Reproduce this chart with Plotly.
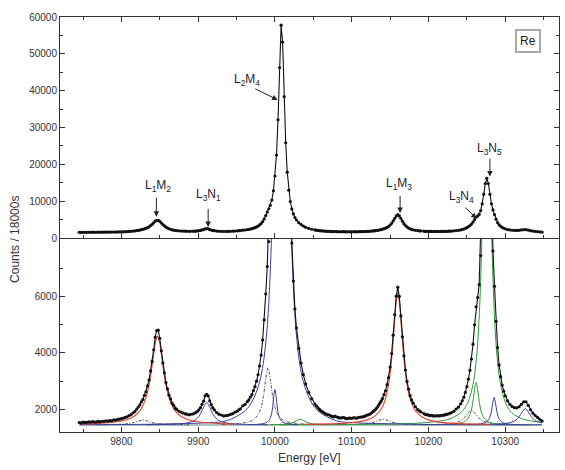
import plotly.graph_objects as go

exp_energy = [
    9745, 9747.5, 9750, 9752.5, 9755, 9757.5, 9760, 9762.5, 9765, 9767.5, 9770, 9772.5, 9775, 9777.5,
    9780, 9782.5, 9785, 9787.5, 9790, 9792.5, 9795, 9797.5, 9800, 9802.5, 9805, 9807.5, 9810, 9812.5,
    9815, 9817.5, 9820,
    9822, 9824, 9826, 9828, 9830, 9832, 9834, 9836, 9838, 9840, 9842, 9844, 9846, 9848, 9850, 9852,
    9854, 9856, 9858, 9860, 9862, 9864, 9866, 9868, 9870, 9872,
    9875, 9878, 9880, 9883, 9885, 9888, 9890, 9893, 9895, 9897, 9899, 9901, 9903, 9905, 9907, 9909,
    9911, 9913, 9915, 9917, 9919, 9921, 9924, 9927, 9930, 9933, 9936, 9939, 9942, 9945, 9948, 9951,
    9953, 9955, 9958, 9961, 9964,
    9966, 9968, 9970, 9972, 9974, 9976, 9978, 9980, 9982, 9984, 9986, 9988, 9990, 9992, 9994, 9996,
    9998, 10000, 10002, 10004, 10006, 10008, 10010, 10012, 10014, 10016, 10018, 10020, 10022, 10024,
    10026, 10028, 10031, 10034, 10037, 10040, 10044, 10048,
    10052, 10054, 10056, 10058, 10060, 10062, 10064, 10066, 10068, 10070, 10072, 10074, 10076, 10078,
    10080, 10082, 10084, 10086, 10088, 10090, 10092, 10094, 10096, 10098, 10100, 10102, 10104, 10106,
    10108, 10110, 10112, 10114, 10116, 10118, 10120, 10122, 10124, 10126, 10128,
    10129.5, 10131, 10132.5, 10134, 10135.5, 10137, 10138.5, 10140, 10142, 10144, 10146, 10148, 10150,
    10152, 10154, 10156, 10158, 10160, 10162, 10164, 10166, 10168, 10170, 10172, 10174, 10176, 10178,
    10180, 10183, 10186, 10188, 10190,
    10194, 10196, 10198, 10200, 10202, 10204, 10206, 10208, 10210, 10212, 10214, 10216, 10218, 10220,
    10222, 10224, 10226, 10228, 10230, 10233, 10236, 10239,
    10242, 10244, 10246, 10248, 10250, 10252, 10254, 10256, 10258, 10260, 10262, 10264, 10266, 10268,
    10270, 10272, 10274, 10276, 10278, 10280, 10282, 10284, 10286, 10288, 10290, 10292, 10294, 10296,
    10298, 10300, 10303, 10306, 10309,
    10312, 10315, 10318, 10321, 10324, 10327, 10330, 10333, 10336, 10339, 10342, 10345, 10348,
]
exp_counts = [
    1536, 1521, 1548, 1533, 1541, 1556, 1549, 1570, 1553, 1562, 1577, 1560, 1581, 1574,
    1596, 1585, 1606, 1598, 1627, 1619, 1648, 1655, 1676, 1689, 1716, 1738, 1781, 1812,
    1872, 1925, 2012,
    2085, 2158, 2266, 2352, 2497, 2626, 2830, 3041, 3362, 3698, 4110, 4560, 4790, 4805, 4520, 4075,
    3645, 3295, 2950, 2724, 2505, 2370, 2221, 2148, 2046, 2004,
    1935, 1902, 1871, 1845, 1832, 1809, 1826, 1838, 1861, 1887, 1930, 1985, 2065, 2180, 2290, 2480,
    2530, 2480, 2300, 2170, 2060, 1985, 1890, 1830, 1802, 1770, 1781, 1790, 1822, 1850, 1902, 1935,
    1985, 2020, 2130, 2172, 2275,
    2340, 2440, 2525, 2668, 2805, 3000, 3228, 3540, 3925, 4460, 5170, 6090, 7060, 7945, 8860, 10290,
    12830, 16830, 22520, 32100, 46280, 57770, 53180, 38370, 25860, 17880, 12980, 9905, 7890, 6545,
    5560, 4885, 4160, 3640, 3230, 2905, 2600, 2375,
    2190, 2120, 2060, 2000, 1945, 1915, 1880, 1845, 1820, 1810, 1785, 1752, 1735, 1760,
    1740, 1718, 1700, 1695, 1712, 1706, 1680, 1672, 1695, 1690, 1684, 1701, 1705, 1688,
    1702, 1722, 1731, 1735, 1748, 1770, 1800, 1812, 1838, 1880, 1930,
    1960, 2005, 2050, 2100, 2170, 2240, 2300, 2385, 2520, 2660, 2875, 3125, 3500,
    3980, 4630, 5350, 6010, 6330, 6000, 5310, 4570, 3900, 3395, 2995, 2718, 2488, 2335,
    2222, 2095, 1990, 1950, 1910,
    1852, 1822, 1812, 1795, 1780, 1790, 1768, 1775, 1766, 1780, 1770, 1783, 1790, 1795,
    1812, 1825, 1842, 1860, 1890, 1935, 2015, 2080,
    2200, 2305, 2435, 2600, 2805, 3070, 3385, 3785, 4310, 4995, 5635, 5960, 6420, 7450,
    9250, 11890, 14800, 16210, 14790, 11880, 9300, 7610, 6360, 5120, 4190, 3575, 3160, 2865,
    2645, 2480, 2300, 2180, 2100,
    2060, 2055, 2095, 2180, 2270, 2272, 2140, 1985, 1868, 1785, 1720, 1650, 1590,
]

# ---------------- fitted components ----------------
l1m2_energy = [9747, 9767, 9787, 9797, 9807, 9817, 9822, 9827, 9832, 9834.5, 9837, 9839.5, 9842, 9844.5,
               9847, 9849.5, 9852, 9854.5, 9857, 9859.5, 9862, 9867, 9872, 9877, 9887, 9897, 9907, 9927, 9947]
l1m2_counts = [1481, 1498, 1535, 1571, 1634, 1764, 1883, 2077, 2415, 2673, 3018, 3457, 3959, 4401,
               4586, 4401, 3959, 3457, 3018, 2673, 2415, 2077, 1883, 1764, 1634, 1571, 1535, 1498, 1481]

sat1_energy = [9768, 9792, 9804, 9810, 9816, 9822, 9828, 9834, 9840, 9846, 9852, 9864, 9888]
sat1_counts = [1456, 1467, 1484, 1502, 1535, 1586, 1620, 1586, 1535, 1502, 1484, 1467, 1456]

l3n1_energy = [9831, 9863, 9879, 9887, 9895, 9899, 9903, 9907, 9911, 9915, 9919, 9923, 9927, 9935, 9943, 9959, 9991]
l3n1_counts = [1458, 1471, 1496, 1529, 1607, 1692, 1843, 2079, 2236, 2079, 1843, 1692, 1607, 1529, 1496, 1471, 1458]

l2m4_energy = [9745.5, 9818.5, 9866, 9913.5, 9937.25, 9961, 9970.5, 9980, 9984.75, 9989.5, 9991.9, 9994.25,
               9996.6, 9999, 10001.4, 10003.75, 10006.1, 10008.5, 10010.9, 10013.25, 10015.6, 10018,
               10020.4, 10022.75, 10025.1, 10027.5, 10032.25, 10037, 10046.5, 10056, 10079.75, 10103.5,
               10151, 10198.5, 10270.5, 10347.5]
l2m4_counts = [1458, 1468, 1490, 1530, 1600, 1950, 2290, 2977, 3623, 4774, 5744, 7100,
               9243, 12750, 18835, 29700, 46650, 57950, 46650, 29700, 18835, 12750,
               9243, 7100, 5744, 4774, 3623, 2977, 2300, 1950, 1600, 1530,
               1490, 1468, 1458, 1455]

sat2_energy = [9931, 9955, 9967, 9973, 9979, 9982, 9985, 9988, 9991, 9994, 9997, 10000, 10003, 10009, 10015, 10027, 10051]
sat2_counts = [1470, 1505, 1569, 1652, 1854, 2072, 2460, 3066, 3470, 3066, 2460, 2072, 1854, 1652, 1569, 1505, 1470]

b10000_energy = [9970, 9982, 9988, 9991, 9994, 9995.5, 9997, 9998.5, 10000, 10001.5, 10003, 10004.5, 10006, 10009, 10012, 10018, 10030]
b10000_counts = [1462, 1484, 1524, 1576, 1701, 1836, 2078, 2455, 2706, 2455, 2078, 1836, 1701, 1576, 1524, 1484, 1462]

g10033_energy = [9993, 10009, 10017, 10021, 10025, 10029, 10033, 10037, 10041, 10045, 10049, 10057, 10073]
g10033_counts = [1458, 1470, 1490, 1512, 1550, 1610, 1650, 1610, 1550, 1512, 1490, 1470, 1458]

sat3_energy = [10081, 10105, 10117, 10123, 10129, 10135, 10141, 10147, 10153, 10159, 10165, 10177, 10201]
sat3_counts = [1458, 1470, 1490, 1512, 1550, 1610, 1650, 1610, 1550, 1512, 1490, 1470, 1458]

l1m3_energy = [10040, 10080, 10096, 10112, 10120, 10128, 10136, 10140, 10144, 10148, 10150, 10152, 10154,
               10156, 10158, 10160, 10162, 10164, 10166, 10168, 10170, 10172, 10176, 10180, 10184, 10192,
               10200, 10208, 10224, 10240, 10280]
l1m3_counts = [1471, 1496, 1522, 1576, 1630, 1725, 1917, 2094, 2384, 2886, 3271, 3784, 4438,
               5184, 5843, 6118, 5843, 5184, 4438, 3784, 3271, 2886, 2384, 2094, 1917, 1725,
               1630, 1576, 1522, 1496, 1471]

sat4_energy = [10211, 10229, 10238, 10242.5, 10247, 10251.5, 10256, 10260.5, 10265, 10269.5, 10274, 10283, 10301]
sat4_counts = [1470, 1502, 1554, 1610, 1710, 1866, 1970, 1866, 1710, 1610, 1554, 1502, 1470]

l3n4_energy = [10192, 10217, 10235, 10244, 10248.5, 10253, 10255.25, 10257.5, 10259.75, 10262, 10264.25,
               10266.5, 10268.75, 10271, 10275.5, 10280, 10289, 10307, 10332]
l3n4_counts = [1456, 1465, 1491, 1538, 1600, 1751, 1912, 2202, 2652, 2953, 2652,
               2202, 1912, 1751, 1600, 1538, 1491, 1465, 1456]

l3n5_energy = [10006, 10096, 10156, 10186, 10216, 10228, 10240, 10246, 10252, 10258, 10261, 10264, 10267,
               10270, 10273, 10276, 10279, 10282, 10285, 10288, 10291, 10294, 10300, 10306, 10312, 10324,
               10336, 10348]
l3n5_counts = [1457, 1466, 1486, 1514, 1592, 1671, 1838, 2002, 2294, 2885, 3429, 4320, 5865,
               8625, 12930, 15800, 12930, 8625, 5865, 4320, 3429, 2885, 2250, 1960, 1810, 1650,
               1580, 1545]

b10285_energy = [10250.5, 10264.5, 10271.5, 10275, 10278.5, 10280.25, 10282, 10283.75, 10285.5, 10287.25,
                 10289, 10290.75, 10292.5, 10296, 10299.5, 10306.5, 10320.5]
b10285_counts = [1460, 1476, 1507, 1548, 1645, 1750, 1938, 2230, 2425, 2230,
                 1938, 1750, 1645, 1548, 1507, 1476, 1460]

b10326_energy = [10286, 10302, 10310, 10314, 10318, 10322, 10326, 10330, 10334, 10338, 10342, 10348]
b10326_counts = [1472, 1508, 1565, 1627, 1738, 1910, 2025, 1910, 1738, 1627, 1565, 1517]

baseline_energy = [9745, 10348]
baseline_counts = [1448, 1448]

# ---------------- peak labels (top panel) ----------------
label_texts = ["L<sub>1</sub>M<sub>2</sub>", "L<sub>3</sub>N<sub>1</sub>", "L<sub>2</sub>M<sub>4</sub>",
               "L<sub>1</sub>M<sub>3</sub>", "L<sub>3</sub>N<sub>4</sub>", "L<sub>3</sub>N<sub>5</sub>"]
label_energy = [9847.5, 9913, 9963.5, 10161, 10242.5, 10279]
label_counts = [14000, 11600, 43000, 14700, 11200, 24300]
arrow_tail_energy = [9845.5, 9913, 9972.5, 10163, 10246.2, 10280]
arrow_tail_counts = [11300, 8300, 40700, 11800, 8600, 21900]
arrow_head_energy = [9845.5, 9913, 10003.5, 10163, 10262.6, 10280]
arrow_head_counts = [5800, 3000, 37500, 6800, 5300, 16700]

y_top_ticks = [0, 10000, 20000, 30000, 40000, 50000, 60000]
y_bottom_ticks = [2000, 4000, 6000]
x_ticks = [9800, 9900, 10000, 10100, 10200, 10300]

RED = "#e2402f"
BLUE = "#3d3f9c"
GREEN = "#2f9a3a"
DASH = "#222222"
TEAL = "#5a8585"
FONT = "Arial, Liberation Sans, sans-serif"
DASHDOT = "3px,1.5px,1px,1.5px"

fig = go.Figure()


def add_line(E, C, color, dash="solid", width=1.0):
    fig.add_trace(go.Scatter(x=E, y=C, mode="lines", xaxis="x", yaxis="y",
                             line=dict(color=color, width=width, dash=dash, shape="spline"),
                             showlegend=False, hoverinfo="skip"))


add_line(baseline_energy, baseline_counts, TEAL, width=1.2)
add_line(sat1_energy, sat1_counts, DASH, DASHDOT, 0.8)
add_line(sat2_energy, sat2_counts, DASH, DASHDOT, 0.8)
add_line(sat3_energy, sat3_counts, DASH, DASHDOT, 0.8)
add_line(sat4_energy, sat4_counts, DASH, DASHDOT, 0.8)
add_line(g10033_energy, g10033_counts, GREEN)
add_line(l3n4_energy, l3n4_counts, GREEN)
add_line(l3n5_energy, l3n5_counts, GREEN)
add_line(l3n1_energy, l3n1_counts, BLUE)
add_line(l2m4_energy, l2m4_counts, BLUE)
add_line(b10000_energy, b10000_counts, BLUE)
add_line(b10285_energy, b10285_counts, BLUE)
add_line(b10326_energy, b10326_counts, BLUE)
add_line(l1m2_energy, l1m2_counts, RED, width=1.1)
add_line(l1m3_energy, l1m3_counts, RED, width=1.1)

for ya, xa in (("y", "x"), ("y2", "x2")):
    fig.add_trace(go.Scatter(x=exp_energy, y=exp_counts, mode="lines+markers", xaxis=xa, yaxis=ya,
                             line=dict(color="#111111", width=1.1),
                             marker=dict(symbol="circle", size=3.2, color="#111111",
                                         line=dict(width=0)),
                             showlegend=False, hoverinfo="skip"))

annotations = []
for t, xe, yc in zip(label_texts, label_energy, label_counts):
    annotations.append(dict(x=xe, y=yc, xref="x2", yref="y2", text=t, showarrow=False,
                            font=dict(family=FONT, size=12, color="#222")))
for xt, yt, xh, yh in zip(arrow_tail_energy, arrow_tail_counts, arrow_head_energy, arrow_head_counts):
    annotations.append(dict(x=xh, y=yh, xref="x2", yref="y2", ax=xt, ay=yt, axref="x2", ayref="y2",
                            text="", showarrow=True, arrowhead=2, arrowsize=1.1, arrowwidth=1,
                            arrowcolor="#222"))
annotations.append(dict(x=10329, y=53600, xref="x2", yref="y2", text="Re", showarrow=False,
                        font=dict(family=FONT, size=12, color="#222"), bgcolor="white",
                        bordercolor="#a8a8a8", borderwidth=2, borderpad=3))
annotations.append(dict(x=-0.09, y=0.463, xref="paper", yref="paper", text="Counts / 18000s",
                        xanchor="center", yanchor="middle",
                        textangle=-90, showarrow=False, font=dict(family=FONT, size=12, color="#333")))
annotations.append(dict(x=0.501, y=-0.063, xref="paper", yref="paper", text="Energy [eV]",
                        xanchor="center", yanchor="middle",
                        showarrow=False, font=dict(family=FONT, size=12, color="#333")))

axis_common = dict(showline=True, linecolor="#333", linewidth=1, ticks="inside",
                   ticklen=5, tickwidth=1, tickcolor="#333", showgrid=False, zeroline=False,
                   tickformat="d", tickfont=dict(family=FONT, size=10, color="#333"))

split = 194 / 415
minor_x = dict(tickvals=[9750, 9850, 9950, 10050, 10150, 10250, 10350], ticks="inside",
               ticklen=3, tickcolor="#333")
fig.update_layout(
    width=565, height=470, margin=dict(l=60, r=6, t=17, b=38),
    paper_bgcolor="white", plot_bgcolor="white", showlegend=False,
    xaxis=dict(range=[9720, 10370], anchor="y", tickvals=x_ticks, mirror=False,
               minor=minor_x, **axis_common),
    yaxis=dict(range=[1200, 8070], domain=[0, split], anchor="x", tickvals=y_bottom_ticks,
               mirror="ticks",
               minor=dict(tickvals=[3000, 5000, 7000], ticks="inside", ticklen=3, tickcolor="#333"),
               **axis_common),
    xaxis2=dict(range=[9720, 10370], anchor="y2", matches="x", showticklabels=False,
                tickvals=x_ticks, mirror="ticks", minor=minor_x, **axis_common),
    yaxis2=dict(range=[0, 60000], domain=[split, 1], anchor="x2", tickvals=y_top_ticks,
                mirror="ticks",
                minor=dict(tickvals=[5000, 15000, 25000, 35000, 45000, 55000], ticks="inside",
                           ticklen=3, tickcolor="#333"),
                **axis_common),
    annotations=annotations,
)

fig.write_html("out.html")
